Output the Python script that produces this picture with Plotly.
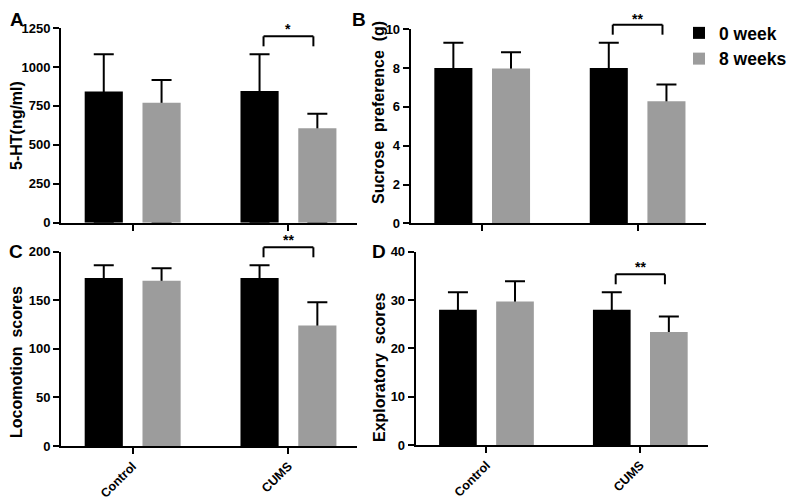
import plotly.graph_objects as go

# the page body adds an 8px margin, so the figure is drawn 8px in from the corner
OFF = 8
W, H = 796 - OFF, 502 - OFF

groups = ["Control", "CUMS"]
series_names = ["0 week", "8 weeks"]
colors = ["#000000", "#9c9c9c"]

# A: 5-HT
ht_0wk = [843, 845]
ht_0wk_sd = [238, 236]
ht_8wk = [770, 606]
ht_8wk_sd = [146, 94]

# B: sucrose preference
suc_0wk = [8.0, 8.0]
suc_0wk_sd = [1.31, 1.31]
suc_8wk = [7.98, 6.29]
suc_8wk_sd = [0.84, 0.87]

# C: locomotion
loco_0wk = [173, 173]
loco_0wk_sd = [13, 13]
loco_8wk = [170, 124]
loco_8wk_sd = [13, 24]

# D: exploratory
expl_0wk = [28.0, 28.0]
expl_0wk_sd = [3.6, 3.6]
expl_8wk = [29.7, 23.4]
expl_8wk_sd = [4.2, 3.2]

# pixel positions below are in the 796x502 reference frame
panels = [
    dict(letter="A", title="5-HT(ng/ml)", vals=[ht_0wk, ht_8wk], sds=[ht_0wk_sd, ht_8wk_sd],
         ymax=1250, dtick=250, star="*", xpx=(61, 357), ypx=(28, 222.7),
         letter_at=(17, 8), title_at=(16, 126)),
    dict(letter="B", title="Sucrose\u00a0\u00a0preference\u00a0\u00a0(g)", vals=[suc_0wk, suc_8wk],
         sds=[suc_0wk_sd, suc_8wk_sd], ymax=10, dtick=2, star="**", xpx=(410.7, 706),
         ypx=(29.3, 223.3), letter_at=(359, 8), title_at=(378, 113)),
    dict(letter="C", title="Locomotion\u00a0\u00a0scores", vals=[loco_0wk, loco_8wk],
         sds=[loco_0wk_sd, loco_8wk_sd], ymax=200, dtick=50, star="**", xpx=(61, 357),
         ypx=(251.7, 446), letter_at=(16, 240), title_at=(16, 362)),
    dict(letter="D", title="Exploratory\u00a0\u00a0scores", vals=[expl_0wk, expl_8wk],
         sds=[expl_0wk_sd, expl_8wk_sd], ymax=40, dtick=10, star="**", xpx=(415.7, 708),
         ypx=(251.7, 445), letter_at=(379, 240), title_at=(379, 367)),
]


def fx(px):
    return (px - OFF) / W


def fy(py):
    return 1 - (py - OFF) / H


xrange_ = [-0.46, 1.44]
bargap = 0.258
FONT = "Arial, Liberation Sans, sans-serif"

fig = go.Figure()
shapes = []
annotations = []

for i, p in enumerate(panels, start=1):
    xa = "x" if i == 1 else f"x{i}"
    ya = "y" if i == 1 else f"y{i}"
    # hidden traces carry the error bars (from 0 up to mean+sd); real bars drawn over them
    for k in range(2):
        fig.add_trace(go.Bar(
            x=groups, y=p["vals"][k], offsetgroup=str(k),
            marker=dict(color="rgba(0,0,0,0)", line=dict(width=0)),
            error_y=dict(type="data", symmetric=False, array=p["sds"][k],
                         arrayminus=p["vals"][k], color="black", thickness=2, width=10),
            xaxis=xa, yaxis=ya, showlegend=False, hoverinfo="skip",
        ))
    for k in range(2):
        fig.add_trace(go.Bar(
            x=groups, y=p["vals"][k], name=series_names[k], offsetgroup=str(k),
            marker=dict(color=colors[k], line=dict(width=0)),
            xaxis=xa, yaxis=ya, showlegend=(i == 1), legendgroup=series_names[k],
        ))
    x0, x1 = p["xpx"]
    y0, y1 = p["ypx"]
    yticks = list(range(0, p["ymax"] + 1, p["dtick"]))
    fig.layout[f"xaxis{i if i > 1 else ''}"] = dict(
        domain=[fx(x0), fx(x1)], anchor=ya, range=xrange_, type="category",
        showline=True, linewidth=2, linecolor="black", ticks="outside", ticklen=6,
        tickwidth=2, tickcolor="black", showgrid=False, showticklabels=(i >= 3),
        tickvals=groups, ticktext=[f"<b>{g}</b>" for g in groups], automargin=False,
        tickangle=-45, tickfont=dict(family=FONT, size=12.5, color="black"),
    )
    fig.layout[f"yaxis{i if i > 1 else ''}"] = dict(
        domain=[fy(y1), fy(y0)], anchor=xa, range=[0, p["ymax"]],
        tickvals=yticks, ticktext=[f"<b>{t}</b>" for t in yticks], automargin=False,
        showline=True, linewidth=2, linecolor="black", ticks="outside", ticklen=6,
        tickwidth=2, tickcolor="black", showgrid=False, zeroline=False,
        tickfont=dict(family=FONT, size=13, color="black"),
    )

    # significance bracket over CUMS pair (paper coords so it is not clipped)
    def px_x(v):
        return x0 + (v - xrange_[0]) / (xrange_[1] - xrange_[0]) * (x1 - x0)

    def px_y(v):
        return y1 - v / p["ymax"] * (y1 - y0)

    top_val = max(p["vals"][0][1] + p["sds"][0][1], p["vals"][1][1] + p["sds"][1][1])
    bt = px_y(top_val) - 18
    bl, br = px_x(1 - 0.16), px_x(1 + 0.16)
    for (ax, ay, bx, by) in [(bl, bt + 10, bl, bt), (bl, bt, br, bt), (br, bt, br, bt + 10)]:
        shapes.append(dict(type="line", xref="paper", yref="paper",
                           x0=fx(ax), y0=fy(ay), x1=fx(bx), y1=fy(by),
                           line=dict(color="black", width=2)))
    star_top = max(bt - 17.5, OFF + 0.5)
    annotations.append(dict(text=f"<b>{p['star']}</b>", xref="paper", yref="paper",
                            x=fx((bl + br) / 2), y=fy(star_top), xanchor="center",
                            yanchor="top", showarrow=False,
                            font=dict(family=FONT, size=14, color="black")))
    annotations.append(dict(text=f"<b>{p['letter']}</b>", xref="paper", yref="paper",
                            x=fx(p["letter_at"][0]), y=fy(p["letter_at"][1]),
                            xanchor="center", yanchor="top", showarrow=False, borderpad=0,
                            font=dict(family=FONT, size=19, color="black")))
    annotations.append(dict(text=f"<b>{p['title']}</b>", xref="paper", yref="paper",
                            textangle=-90,
                            x=fx(p["title_at"][0]), y=fy(p["title_at"][1]),
                            xanchor="center", yanchor="middle", showarrow=False,
                            font=dict(family=FONT, size=16, color="black")))

fig.update_layout(
    width=W, height=H, margin=dict(l=0, r=0, t=0, b=0, autoexpand=False),
    paper_bgcolor="white", plot_bgcolor="white",
    barmode="group", bargap=bargap, bargroupgap=0.34,
    shapes=shapes, annotations=annotations,
    legend=dict(x=fx(679), y=fy(15), xanchor="left", yanchor="top",
                font=dict(family=FONT, size=17.5, color="black", weight="bold"),
                bgcolor="rgba(0,0,0,0)", tracegroupgap=0),
)

fig.write_html("out.html")
